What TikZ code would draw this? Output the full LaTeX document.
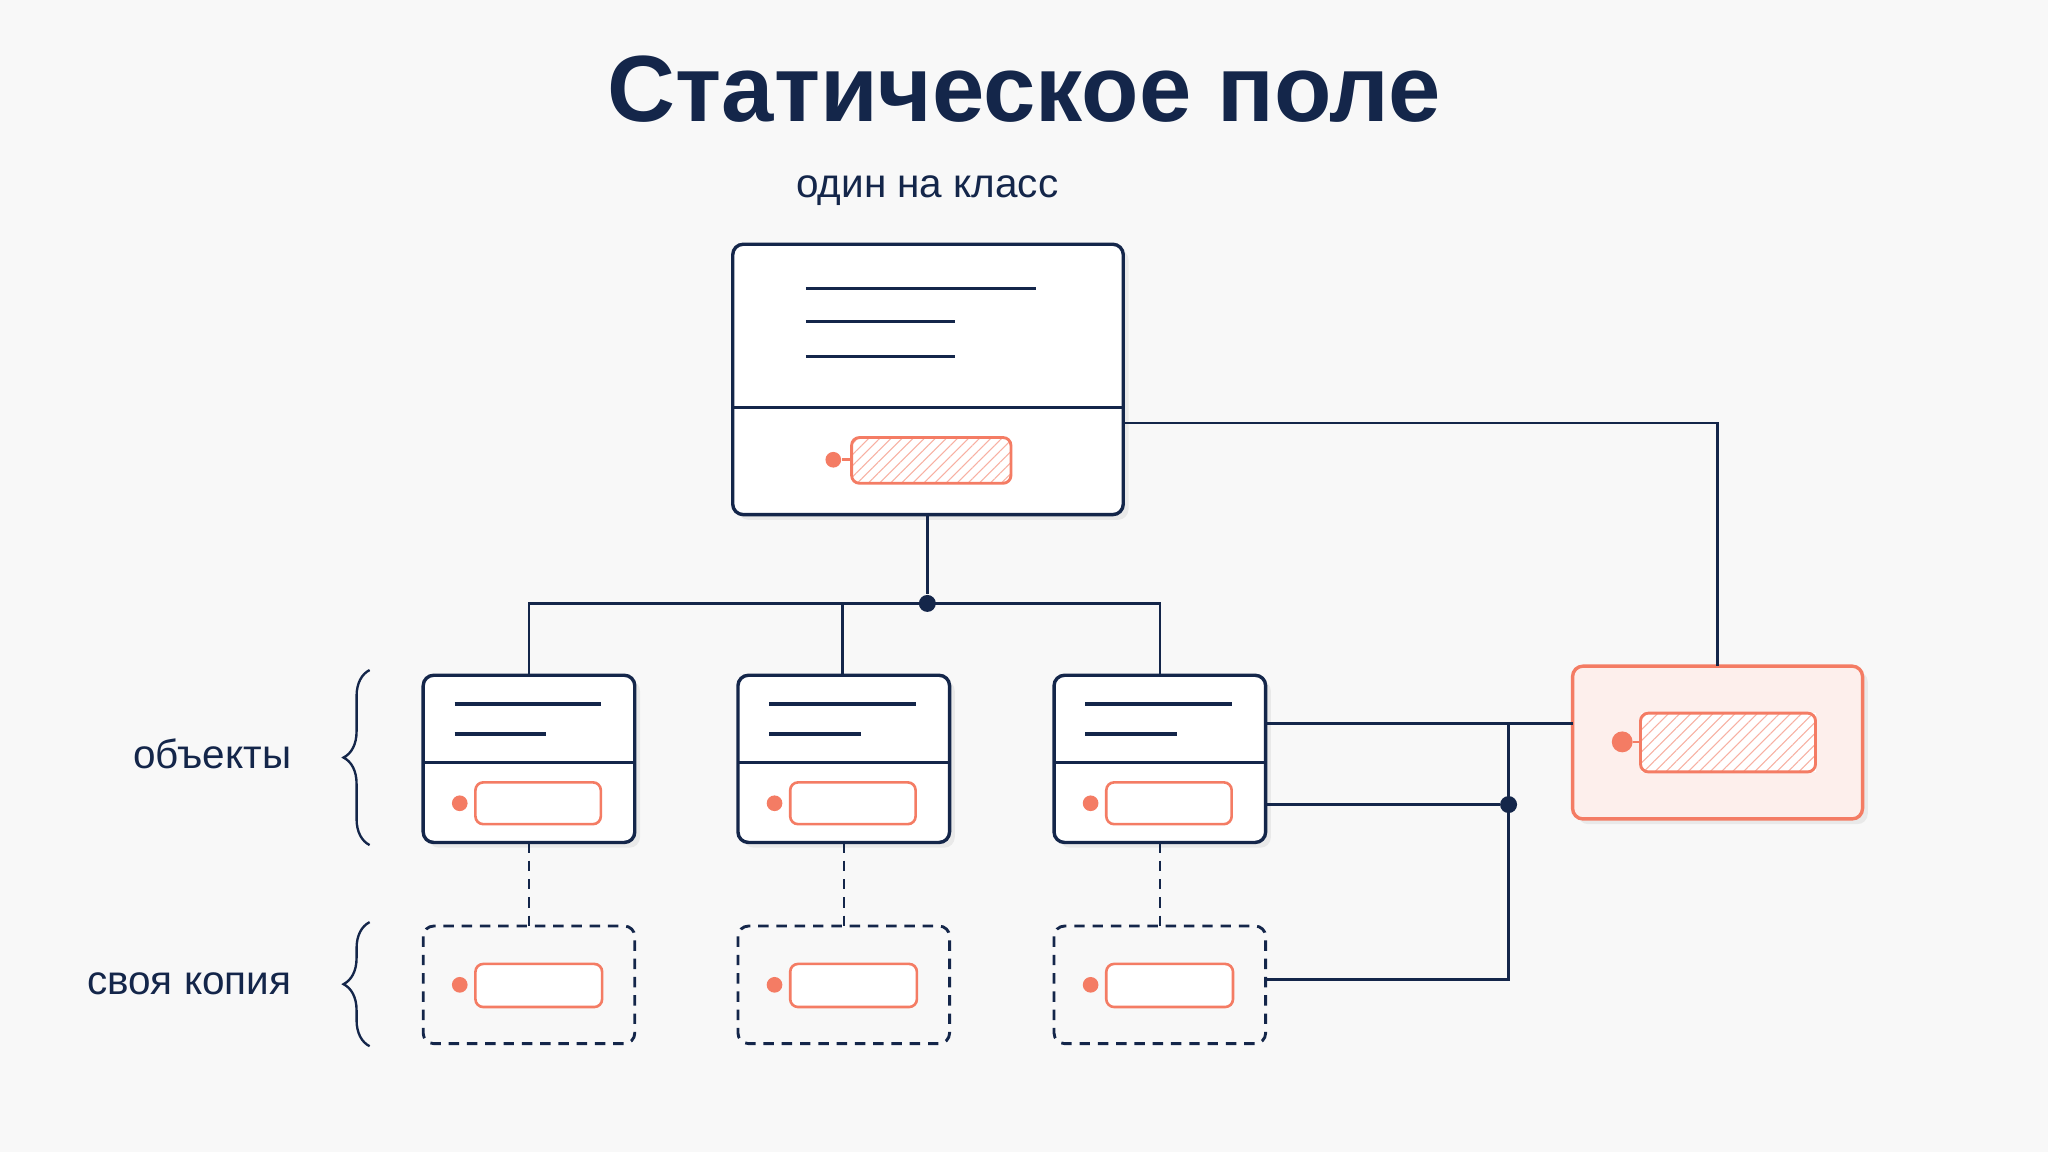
\documentclass[tikz,border=0pt]{standalone}
\usepackage{fontspec}
\setmainfont{Liberation Sans}
\usetikzlibrary{patterns,patterns.meta,decorations.pathreplacing,shadows}
\definecolor{navy}{HTML}{14264A}
\definecolor{coral}{HTML}{F47C64}
\definecolor{bg}{HTML}{F8F8F8}
\definecolor{pinkbg}{HTML}{FDEFEC}
\begin{document}
\begin{tikzpicture}[x=0.5pt,y=-0.5pt,
  box/.style={draw=navy,line width=1.3pt,fill=white,rounded corners=4pt,drop shadow={shadow xshift=2pt,shadow yshift=-2pt,opacity=0.12}},
  dbox/.style={draw=navy,line width=1.1pt,dash pattern=on 4pt off 3pt,rounded corners=4pt},
  wire/.style={draw=navy,line width=0.9pt},
  txt/.style={draw=navy,line width=1.3pt},
  field/.style={draw=coral,line width=1pt,rounded corners=3pt,fill=white},
  hfield/.style={draw=coral,line width=1.1pt,rounded corners=3pt,pattern={Lines[angle=45,distance=3pt,line width=0.4pt]},pattern color=coral!60},
  cdot/.style={circle,fill=coral,inner sep=0pt,minimum size=6pt},
  ndot/.style={circle,fill=navy,inner sep=0pt,minimum size=6.5pt},
  lbl/.style={text=navy,font=\fontsize{15.5}{18}\selectfont},
  brace/.style={draw=navy,line width=0.9pt,decorate,decoration={brace,amplitude=10pt}}]
\fill[bg] (0,0) rectangle (1568,882);
\useasboundingbox (0,0) rectangle (1568,882);
\node[text=navy,font=\bfseries\fontsize{36}{42}\selectfont] (title) at (784,68) {Статическое поле};
\node[lbl] (one) at (710,146) {один на класс};
% class box
\draw[box] (561,187) rectangle (860,394);
\coordinate (cl) at (561,312); \coordinate (cr) at (860,312);
\draw[txt] (cl) -- (cr);
\draw[txt] (617,221) -- (793,221);
\draw[txt] (617,246) -- (731,246);
\draw[txt] (617,273) -- (731,273);
\fill[white] (652,335) rectangle (774,370);
\draw[hfield] (652,335) rectangle (774,370);
\node[cdot] (cd) at (638,352) {};
\draw[coral,line width=1pt] (cd) -- (652,352);
% static box
\draw[box,draw=coral,fill=pinkbg] (1204,510) rectangle (1426,627);
\fill[white] (1256,546) rectangle (1390,591);
\draw[hfield] (1256,546) rectangle (1390,591);
\node[cdot,minimum size=8pt] (sd) at (1242,568) {};
\draw[coral,line width=1pt] (sd) -- (1256,568);
\draw[wire] (860,324) -| (1315,510);
% tree
\node[ndot] (j) at (710,462) {};
\draw[wire] (710,394) -- (j);
\draw[wire] (405,517) |- (888,462) -- (888,517);
\draw[wire] (645,462) -- (645,517);
% objects
\foreach \x in {324,565,807}{
  \draw[box] (\x,517) rectangle ++(162,128);
  \draw[txt] (\x,584) -- ++(162,0);
  \draw[txt] (\x+24,539) -- ++(112,0);
  \draw[txt] (\x+24,562) -- ++(70,0);
  \draw[field] (\x+40,599) rectangle ++(96,32);
  \node[cdot] at (\x+28,615) {};
  \draw[wire,dash pattern=on 4pt off 3pt] (\x+81,645) -- (\x+81,709);
  \draw[dbox] (\x,709) rectangle ++(162,90);
  \draw[field] (\x+40,738) rectangle ++(97,33);
  \node[cdot] at (\x+28,754) {};
}
% right wiring
\node[ndot] (j2) at (1155,616) {};
\draw[wire] (969,554) -- (1204,554);
\draw[wire] (969,616) -- (j2);
\draw[wire] (1155,554) -- (1155,750) -- (969,750);
% braces
\draw[brace] (283,647) -- (283,513);
\draw[brace] (283,801) -- (283,706);
\node[lbl,anchor=east] (ob) at (230,577) {объекты};
\node[lbl,anchor=east] (cp) at (230,753) {своя копия};
\end{tikzpicture}
\end{document}
